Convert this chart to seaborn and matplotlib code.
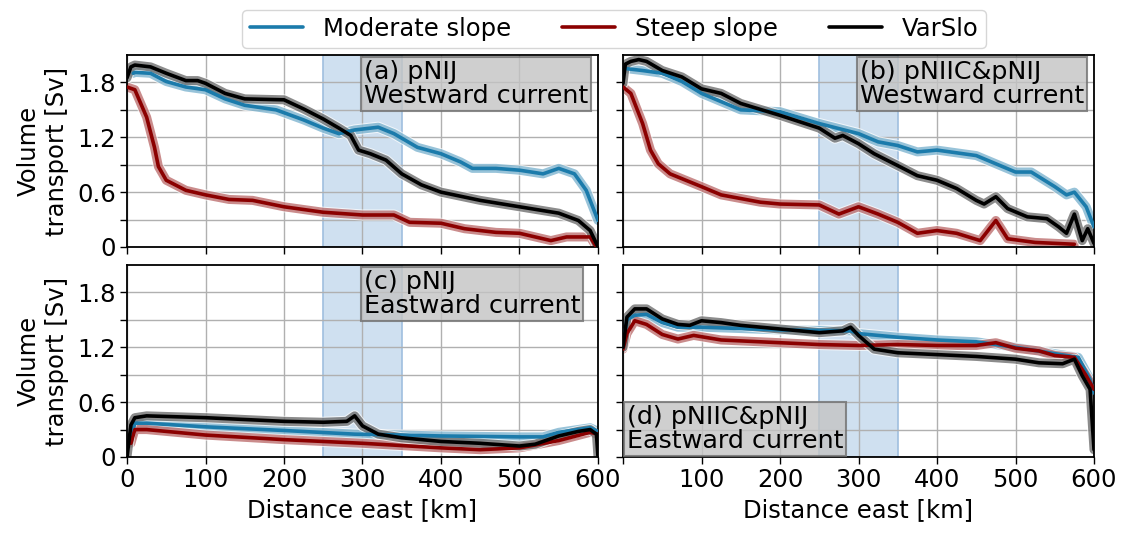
import numpy as np
import pandas as pd
import matplotlib
matplotlib.use("Agg")
import matplotlib.pyplot as plt
from matplotlib.lines import Line2D
import seaborn as sns

# ---------------- data ----------------
# Panel (a) pNIJ westward
a_mod_x = [8, 10, 30, 50, 75, 100, 125, 150, 190, 225, 250, 270, 290, 320, 340, 370, 400, 425, 440, 470, 500, 530, 550, 570, 585, 600]
a_mod_y = [1.90, 1.91, 1.90, 1.81, 1.75, 1.72, 1.62, 1.55, 1.50, 1.39, 1.30, 1.24, 1.28, 1.31, 1.24, 1.09, 1.02, 0.93, 0.86, 0.86, 0.84, 0.80, 0.86, 0.80, 0.62, 0.29]
a_stp_x = [0, 10, 25, 35, 40, 50, 75, 100, 130, 160, 200, 250, 300, 340, 360, 400, 430, 470, 500, 540, 560, 590, 598]
a_stp_y = [1.75, 1.72, 1.42, 1.09, 0.88, 0.73, 0.62, 0.57, 0.52, 0.51, 0.44, 0.38, 0.35, 0.35, 0.27, 0.26, 0.20, 0.16, 0.15, 0.07, 0.11, 0.11, 0.0]
a_var_x = [0, 5, 10, 20, 30, 50, 75, 90, 100, 125, 150, 200, 225, 250, 270, 285, 295, 310, 330, 350, 375, 400, 450, 500, 550, 575, 590, 600]
a_var_y = [1.85, 1.97, 1.99, 1.98, 1.97, 1.90, 1.82, 1.82, 1.79, 1.68, 1.62, 1.61, 1.51, 1.40, 1.30, 1.22, 1.06, 1.02, 0.95, 0.80, 0.68, 0.60, 0.51, 0.44, 0.37, 0.29, 0.18, 0.0]

# Panel (b) pNIIC&pNIJ westward
b_mod_x = [5, 25, 50, 75, 100, 125, 150, 200, 250, 300, 325, 350, 375, 400, 450, 475, 500, 520, 550, 565, 575, 590, 600]
b_mod_y = [1.95, 1.93, 1.90, 1.81, 1.68, 1.59, 1.50, 1.48, 1.35, 1.24, 1.15, 1.11, 1.04, 1.06, 1.00, 0.91, 0.82, 0.82, 0.66, 0.57, 0.60, 0.44, 0.22]
b_stp_x = [0, 10, 25, 35, 45, 60, 80, 100, 125, 150, 175, 200, 250, 275, 300, 325, 350, 375, 400, 425, 455, 475, 490, 525, 550, 575]
b_stp_y = [1.75, 1.68, 1.35, 1.06, 0.91, 0.80, 0.73, 0.66, 0.57, 0.53, 0.49, 0.47, 0.46, 0.36, 0.44, 0.36, 0.27, 0.15, 0.18, 0.15, 0.07, 0.29, 0.09, 0.05, 0.04, 0.03]
b_var_x = [0, 3, 10, 20, 30, 50, 75, 100, 125, 150, 200, 250, 270, 280, 300, 320, 350, 375, 400, 425, 450, 460, 475, 490, 515, 540, 555, 565, 575, 585, 592, 600]
b_var_y = [1.79, 2.00, 2.03, 2.05, 2.03, 1.93, 1.86, 1.73, 1.68, 1.57, 1.44, 1.30, 1.19, 1.22, 1.13, 1.02, 0.89, 0.78, 0.73, 0.64, 0.51, 0.47, 0.55, 0.42, 0.33, 0.31, 0.22, 0.15, 0.36, 0.07, 0.20, 0.04]

# Panel (c) pNIJ eastward
c_mod_x = [5, 10, 25, 100, 200, 290, 350, 400, 500, 530, 550, 590, 600]
c_mod_y = [0.20, 0.37, 0.37, 0.33, 0.29, 0.25, 0.24, 0.23, 0.22, 0.22, 0.27, 0.32, 0.28]
c_stp_x = [5, 10, 25, 100, 200, 300, 400, 450, 500, 550, 590, 600]
c_stp_y = [0.15, 0.30, 0.30, 0.24, 0.19, 0.15, 0.10, 0.08, 0.10, 0.18, 0.27, 0.25]
c_var_x = [0, 5, 10, 25, 100, 200, 250, 280, 290, 300, 320, 350, 400, 450, 500, 520, 550, 575, 590, 598, 600]
c_var_y = [0.0, 0.35, 0.43, 0.45, 0.43, 0.39, 0.38, 0.39, 0.45, 0.34, 0.25, 0.21, 0.17, 0.15, 0.12, 0.14, 0.23, 0.28, 0.30, 0.25, 0.0]

# Panel (d) pNIIC&pNIJ eastward
d_mod_x = [0, 5, 15, 30, 50, 70, 100, 200, 290, 300, 350, 400, 450, 500, 550, 580, 595, 600]
d_mod_y = [1.20, 1.50, 1.55, 1.56, 1.47, 1.42, 1.42, 1.39, 1.38, 1.35, 1.31, 1.28, 1.26, 1.20, 1.13, 1.09, 0.85, 0.70]
d_stp_x = [0, 5, 15, 30, 50, 70, 90, 125, 200, 250, 300, 350, 400, 450, 475, 500, 530, 550, 575, 590, 600]
d_stp_y = [1.18, 1.35, 1.49, 1.45, 1.34, 1.29, 1.33, 1.28, 1.25, 1.23, 1.22, 1.23, 1.22, 1.22, 1.25, 1.19, 1.16, 1.11, 1.09, 0.89, 0.74]
d_var_x = [0, 5, 15, 30, 50, 70, 85, 100, 125, 150, 200, 250, 280, 290, 300, 320, 350, 400, 450, 500, 530, 560, 575, 585, 595, 600]
d_var_y = [1.20, 1.53, 1.62, 1.62, 1.51, 1.45, 1.44, 1.49, 1.47, 1.44, 1.40, 1.36, 1.38, 1.42, 1.33, 1.18, 1.14, 1.12, 1.10, 1.07, 1.03, 1.02, 1.07, 0.89, 0.74, 0.08]

series_names = ["Moderate slope", "Steep slope", "VarSlo"]
panel_titles = ["(a) pNIJ\nWestward current", "(b) pNIIC&pNIJ\nWestward current",
                "(c) pNIJ\nEastward current", "(d) pNIIC&pNIJ\nEastward current"]
x_ticks = [0, 100, 200, 300, 400, 500, 600]
x_ticklabels_left = ["0", "100", "200", "300", "400", "500", "600"]
x_ticklabels_right = ["", "100", "200", "300", "400", "500", "600"]
y_ticks = [0, 0.3, 0.6, 0.9, 1.2, 1.5, 1.8]
y_ticklabels = ["0", "", "0.6", "", "1.2", "", "1.8"]

panels = [
    [(a_mod_x, a_mod_y), (a_stp_x, a_stp_y), (a_var_x, a_var_y)],
    [(b_mod_x, b_mod_y), (b_stp_x, b_stp_y), (b_var_x, b_var_y)],
    [(c_mod_x, c_mod_y), (c_stp_x, c_stp_y), (c_var_x, c_var_y)],
    [(d_mod_x, d_mod_y), (d_stp_x, d_stp_y), (d_var_x, d_var_y)],
]

colors = ["#1b7bab", "#8b0000", "#000000"]

# ---------------- style ----------------
sns.set_theme(style="ticks")
plt.rcParams["font.family"] = ["DejaVu Sans"]
FS = 17.5
plt.rcParams.update({
    "font.size": FS,
    "text.color": "black",
    "axes.labelcolor": "black",
    "xtick.color": "black",
    "ytick.color": "black",
    "xtick.labelcolor": "black",
    "ytick.labelcolor": "black",
})

fig = plt.figure(figsize=(11.21, 5.37), dpi=100)
W, H = 1121, 537
boxes = [(127, 55, 598, 247), (623, 55, 1094, 247), (127, 265, 598, 457), (623, 265, 1094, 457)]
axes = []
for (l, t, r, b) in boxes:
    ax = fig.add_axes([l / W, 1 - b / H, (r - l) / W, (b - t) / H])
    axes.append(ax)

for i, ax in enumerate(axes):
    ax.axvspan(250, 350, facecolor="#cfe0f0", edgecolor="#9fbfdf", lw=1.2, zorder=0.5)
    for (xs, ys), col, name in zip(panels[i], colors, series_names):
        df = pd.DataFrame({"x": xs, "y": ys})
        sns.lineplot(data=df, x="x", y="y", ax=ax, color="white", lw=8, alpha=0.7, zorder=2)
        sns.lineplot(data=df, x="x", y="y", ax=ax, color=col, lw=6.5, alpha=0.45, zorder=2)
        sns.lineplot(data=df, x="x", y="y", ax=ax, color=col, lw=2.6, zorder=3)
    ax.set_xlim(0, 600)
    ax.set_ylim(0, 2.1)
    ax.set_xticks(x_ticks)
    ax.set_yticks(y_ticks)
    ax.grid(True, color="#b0b0b0", lw=1.0)
    ax.tick_params(axis="both", labelsize=FS, length=5, width=1.0, color="black",
                   labelcolor="black", direction="out", pad=3)
    for s in ax.spines.values():
        s.set_color("black")
        s.set_linewidth(1.3)
    if i in (0, 2):
        ax.set_yticklabels(y_ticklabels)
        ax.set_ylabel("Volume\ntransport [Sv]", fontsize=FS, labelpad=6, color="black")
    else:
        ax.set_yticklabels([])
        ax.set_ylabel("")
    if i == 2:
        ax.set_xticklabels(x_ticklabels_left)
    elif i == 3:
        ax.set_xticklabels(x_ticklabels_right)
    else:
        ax.set_xticklabels([])
    if i in (2, 3):
        ax.set_xlabel("Distance east [km]", fontsize=FS, labelpad=4, color="black")
    else:
        ax.set_xlabel("")
    if ax.get_legend() is not None:
        ax.get_legend().remove()
    bbox = dict(boxstyle="square,pad=0.12", facecolor="#c4c4c4", alpha=0.8,
                edgecolor="#707070", lw=1.5)
    if i == 3:
        ax.text(0.008, 0.02, panel_titles[i], transform=ax.transAxes, ha="left", va="bottom",
                fontsize=18.3, linespacing=1.0, bbox=bbox, zorder=5, color="black")
    else:
        ax.text(0.503, 0.975, panel_titles[i], transform=ax.transAxes, ha="left", va="top",
                fontsize=18.3, linespacing=1.0, bbox=bbox, zorder=5, color="black")

handles = [Line2D([0], [0], color=c, lw=2.6) for c in colors]
leg = fig.legend(handles, series_names, loc="center", bbox_to_anchor=(614 / W, 1 - 29 / H), ncol=3,
                 fontsize=FS, frameon=True, edgecolor="#cccccc", fancybox=True,
                 columnspacing=2.1, handlelength=2.2, handletextpad=0.8, borderpad=0.3)
for t in leg.get_texts():
    t.set_color("black")

fig.savefig("out.png", dpi=100)
